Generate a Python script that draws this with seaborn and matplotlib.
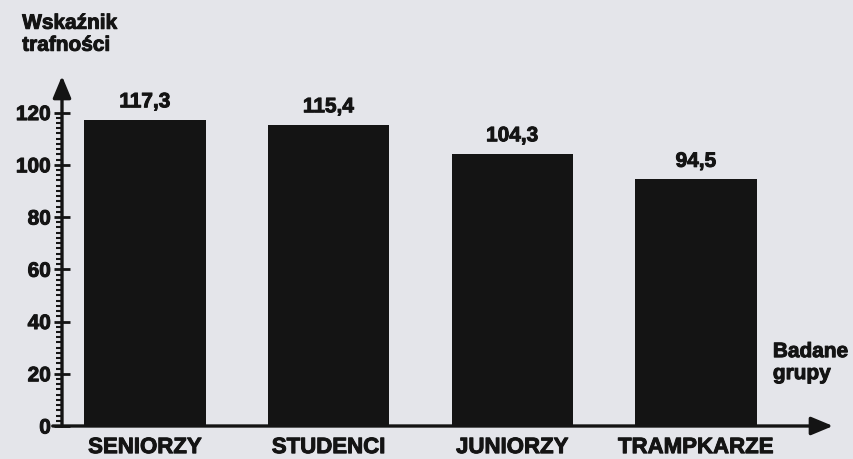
import matplotlib
matplotlib.use("Agg")
import matplotlib.pyplot as plt
import matplotlib.patheffects as pe
import seaborn as sns
import pandas as pd
from matplotlib.ticker import FixedLocator

# Data
groups = ["SENIORZY", "STUDENCI", "JUNIORZY", "TRAMPKARZE"]
scores = [117.3, 115.4, 104.3, 94.5]
y_ticks = [0, 20, 40, 60, 80, 100, 120]

df = pd.DataFrame({"group": groups, "score": scores})

sns.set_theme(style="white")
plt.rcParams["font.family"] = ["Liberation Sans", "DejaVu Sans"]
plt.rcParams["font.weight"] = "bold"

paper = "#e4e5ea"
ink = "#141414"
heavy = [pe.withStroke(linewidth=0.7, foreground=ink)]

fig = plt.figure(figsize=(8.54, 4.59), dpi=100, facecolor=paper)
ax = fig.add_axes([0.0726, 0.0719, 0.9028, 0.7625])
ax.set_facecolor(paper)

sns.barplot(data=df, x="group", y="score", color=ink, saturation=1,
            width=0.66, edgecolor=ink, linewidth=0, ax=ax)

ax.set_xlim(-0.452, 3.746)
ax.set_ylim(0, 134)
ax.set_xlabel("")
ax.set_ylabel("")

# value labels above the bars
for i, v in enumerate(scores):
    ax.annotate(f"{v:.1f}".replace(".", ","), (i, v), xytext=(0, 6),
                textcoords="offset points", ha="center", va="bottom",
                fontsize=15, fontweight="bold", color=ink, path_effects=heavy)

# axes as arrows
for s in ax.spines.values():
    s.set_visible(False)
ax.annotate("", xy=(0, 1.0), xytext=(0, 0), xycoords="axes fraction",
            arrowprops=dict(arrowstyle="-|>,head_length=0.6,head_width=0.25",
                            color=ink, lw=2.4, mutation_scale=22,
                            shrinkA=0, shrinkB=0))
ax.annotate("", xy=(1.0, 0), xytext=(-0.012, 0), xycoords="axes fraction",
            arrowprops=dict(arrowstyle="-|>,head_length=0.6,head_width=0.25",
                            color=ink, lw=2.4, mutation_scale=22,
                            shrinkA=0, shrinkB=0))

ax.set_yticks(y_ticks)
ax.yaxis.set_minor_locator(FixedLocator(range(0, 121, 2)))
ax.tick_params(axis="y", which="major", direction="inout", length=12,
               width=2, color=ink, labelsize=15, pad=2, left=True)
ax.tick_params(axis="y", which="minor", direction="out", length=4,
               width=1.5, color=ink, left=True)
ax.tick_params(axis="x", length=0, pad=8, labelsize=16)
for lab in ax.get_xticklabels() + ax.get_yticklabels():
    lab.set_fontweight("bold")
    lab.set_color(ink)
    lab.set_path_effects(heavy)

fig.text(0.026, 0.97, "Wskaźnik\ntrafności", ha="left", va="top",
         fontsize=15, fontweight="bold", color=ink, linespacing=1.2,
         path_effects=heavy)
fig.text(0.905, 0.21, "Badane\ngrupy", ha="left", va="center",
         fontsize=15, fontweight="bold", color=ink, linespacing=1.2,
         path_effects=heavy)

fig.savefig("out.png", dpi=100, facecolor=paper)
